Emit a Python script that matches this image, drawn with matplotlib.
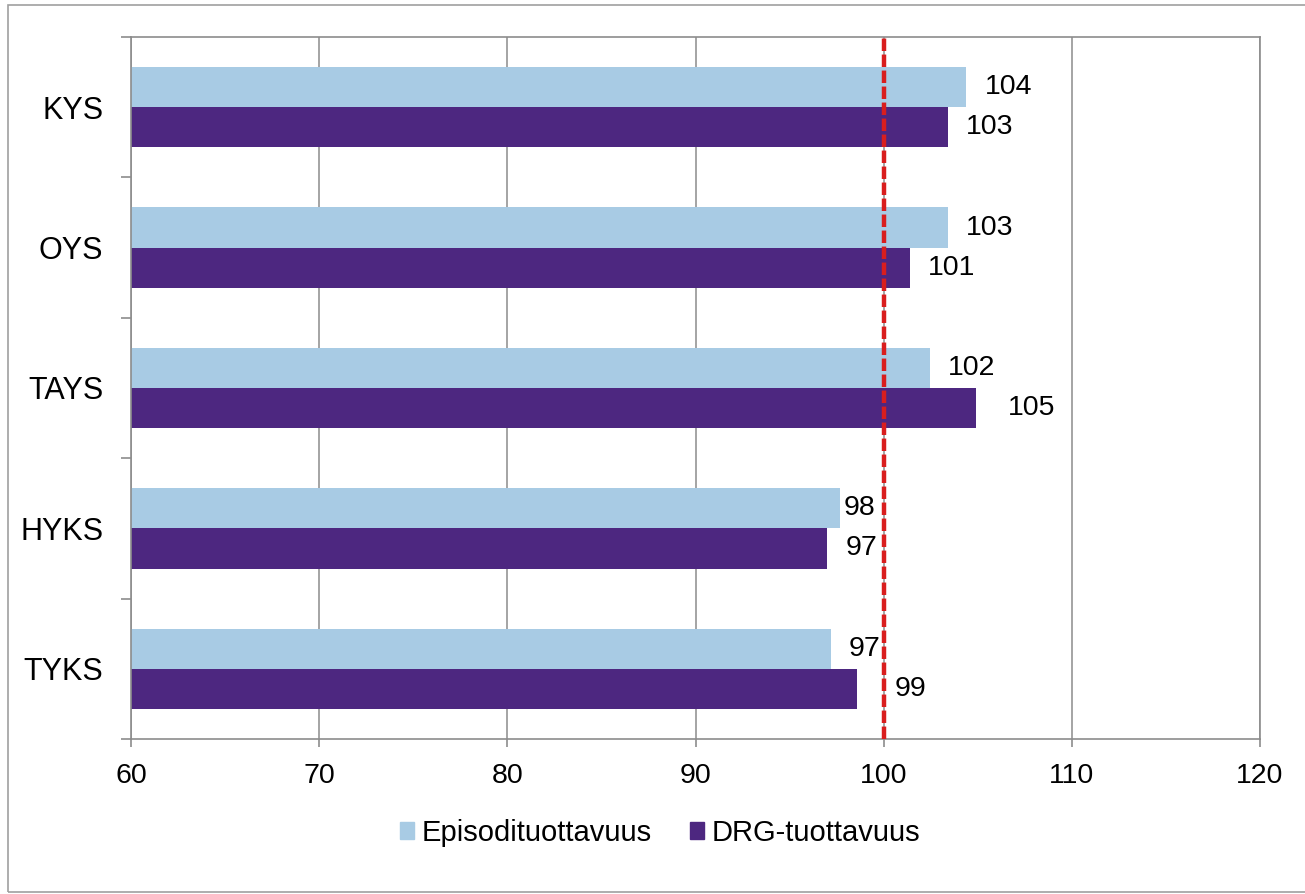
import matplotlib
matplotlib.use('Agg')
from matplotlib import pyplot as plt
from matplotlib.patches import Patch, Rectangle
import numpy as np

# Data (top to bottom)
sairaalat = ['KYS', 'OYS', 'TAYS', 'HYKS', 'TYKS']
episodi = [104.4, 103.4, 102.45, 97.7, 97.2]
drg = [103.4, 101.4, 104.9, 97.0, 98.6]
sarjat = ['Episodituottavuus', 'DRG-tuottavuus']
x_ticks = [60, 70, 80, 90, 100, 110, 120]
viite = 100

vaalea = '#a8cbe4'
violetti = '#4d2780'
harmaa = '#8c8c8c'

# a few labels were dragged by hand in the original (points)
siirto = {(3, 0): -11, (2, 1): 10, (4, 1): 14}

plt.rcParams['font.family'] = ['Liberation Sans', 'DejaVu Sans']

fig = plt.figure(figsize=(13.05, 8.94), dpi=100)
W, H = 1305, 894
ax = fig.add_axes([131 / W, (H - 739) / H, (1260 - 131) / W, (739 - 37) / H])

# kehys koko kuvan ympärille
fig.patches.append(Rectangle((8 / W, 1 - 892 / H), 1.2, (892 - 5) / H,
                             transform=fig.transFigure, fill=False,
                             edgecolor='#a0a0a0', lw=1.2, zorder=0))

y = np.arange(len(sairaalat))
h = 40 / 140
ax.barh(y - h / 2, episodi, height=h, color=vaalea, zorder=2)
ax.barh(y + h / 2, drg, height=h, color=violetti, zorder=2)

ax.axvline(viite, color='#d91e1e', lw=3.2, dashes=(2.8, 0.8), zorder=4)

for i in range(len(sairaalat)):
    for j, (arvot, dy) in enumerate([(episodi, -h / 2), (drg, h / 2)]):
        dx = 13 + siirto.get((i, j), 0)
        ax.annotate(f'{round(arvot[i])}', (arvot[i], y[i] + dy),
                    xytext=(dx, 0), textcoords='offset points',
                    ha='left', va='center', fontsize=20.5, zorder=5)

ax.set_xlim(60, 120)
ax.set_ylim(len(sairaalat) - 0.5, -0.5)
ax.set_xticks(x_ticks)
ax.set_xticklabels([str(t) for t in x_ticks])
ax.set_yticks(np.arange(len(sairaalat) + 1) - 0.5)
ax.set_yticklabels([])
ax.set_yticks(y, minor=True)
ax.set_yticklabels(sairaalat, minor=True)
ax.tick_params(axis='y', which='major', length=7, color=harmaa, width=1.2)
ax.tick_params(axis='y', which='minor', length=0, pad=20, labelsize=22)
ax.tick_params(axis='x', length=6, color=harmaa, width=1.2, pad=11, labelsize=20.5)

ax.grid(axis='x', color=harmaa, lw=1.1, zorder=1)
ax.set_axisbelow(True)
for s in ax.spines.values():
    s.set_color(harmaa)
    s.set_linewidth(1.2)

kahvat = [Patch(color=vaalea), Patch(color=violetti)]
fig.legend(kahvat, sarjat, loc='center', bbox_to_anchor=(660 / W, 1 - 833 / H),
           ncol=2, frameon=False, fontsize=21, handlelength=0.5, handleheight=0.5,
           handletextpad=0.25, columnspacing=1.3)

fig.savefig('out.png', dpi=100)
